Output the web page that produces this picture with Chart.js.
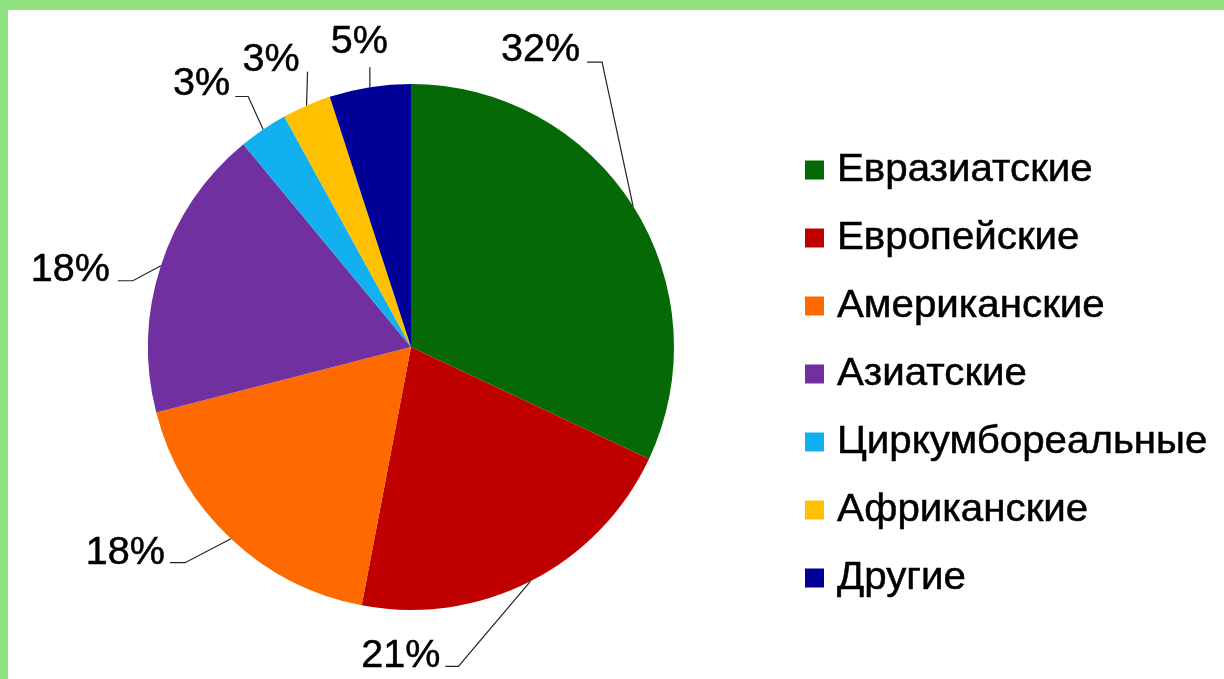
<!DOCTYPE html>
<html>
<head>
<meta charset="utf-8">
<script src="https://cdn.jsdelivr.net/npm/chart.js@4"></script>
<style>
  body { margin: 0; background: #fff; }
  #frame {
    width: 1216px; height: 669px;
    border-top: 10px solid #8fe27f;
    border-left: 8px solid #8fe27f;
    background: #fff;
  }
</style>
</head>
<body>
<div id="frame"><canvas id="pie" width="1216" height="669"></canvas></div>
<script>
var ctx = document.getElementById('pie').getContext('2d');

/* Группы (доли, %) */
const groups = ['Евразиатские', 'Европейские', 'Американские', 'Азиатские', 'Циркумбореальные', 'Африканские', 'Другие'];
const shares = [32, 21, 18, 18, 3, 3, 5];
const colors = ['#056a05', '#c00000', '#ff6a00', '#7030a0', '#12b0ee', '#ffc000', '#000099'];

// подписи: [доля дуги, dx, dy, длина полочки, отступ текста, сдвиг базовой линии]
const labelLayout = [
    [0.5, -31, -144, 15, 7, -1],
    [0.5, -72, 85, 13, 5, 1],
    [0.5, -46, 24, 15, 5, 1],
    [0.5, -28, 15, 15, 8, 0],
    [0.5, -15, -33, 13, 5, -1],
    [0.5, 1, -34, 0, 8, -1],
    [0.5, 0, -20, 0, -18, -14]
];
const FONT = '"Liberation Sans", Arial, sans-serif';

// чуть растянутый текст, как в оригинале
function wideText(c, txt, x, y, sx) {
    c.save();
    c.translate(x, y);
    c.scale(sx, 1);
    c.fillText(txt, 0, 0);
    c.strokeText(txt, 0, 0);
    c.restore();
}

const pieLabels = {
    id: 'pieLabels',
    afterDatasetsDraw(chart) {
        const c = chart.ctx;
        const arcs = chart.getDatasetMeta(0).data;
        const vals = chart.data.datasets[0].data;
        c.save();
        c.strokeStyle = '#222';
        c.lineWidth = 1.2;
        arcs.forEach((arc, i) => {
            const p = arc.getProps(['x', 'y', 'startAngle', 'endAngle', 'outerRadius'], true);
            const L = labelLayout[i];
            const a = p.startAngle + (p.endAngle - p.startAngle) * L[0];
            const ex = p.x + Math.cos(a) * p.outerRadius;
            const ey = p.y + Math.sin(a) * p.outerRadius;
            const bx = ex + L[1], by = ey + L[2];
            c.beginPath();
            c.moveTo(ex, ey);
            c.lineTo(bx, by);
            c.lineTo(bx - L[3], by);
            c.stroke();
        });
        c.font = '38px ' + FONT;
        c.fillStyle = '#000';
        c.strokeStyle = '#000';
        c.lineWidth = 0.5;
        c.textAlign = 'right';
        c.textBaseline = 'alphabetic';
        arcs.forEach((arc, i) => {
            const p = arc.getProps(['x', 'y', 'startAngle', 'endAngle', 'outerRadius'], true);
            const L = labelLayout[i];
            const a = p.startAngle + (p.endAngle - p.startAngle) * L[0];
            const bx = p.x + Math.cos(a) * p.outerRadius + L[1];
            const by = p.y + Math.sin(a) * p.outerRadius + L[2];
            wideText(c, vals[i] + '%', bx - L[3] - L[4], by + L[5], 1.04);
        });
        c.restore();
    }
};

// легенда справа
const legendX = 797, legendY = 160, legendStep = 68, legendBox = 19;
const sideLegend = {
    id: 'sideLegend',
    afterDraw(chart) {
        const c = chart.ctx;
        const ds = chart.data.datasets[0];
        c.save();
        c.font = '38px ' + FONT;
        c.textAlign = 'left';
        c.textBaseline = 'middle';
        c.lineWidth = 0.5;
        chart.data.labels.forEach((lab, i) => {
            const y = legendY + i * legendStep;
            c.fillStyle = ds.backgroundColor[i];
            c.fillRect(legendX, y - legendBox / 2, legendBox, legendBox);
            c.fillStyle = '#000';
            c.strokeStyle = '#000';
            wideText(c, lab, legendX + 32, y + 1, 1.06);
        });
        c.restore();
    }
};

var myChart = new Chart(ctx, {
    type: 'pie',
    data: {
        labels: groups,
        datasets: [{
            data: shares,
            backgroundColor: colors,
            borderWidth: 0
        }]
    },
    options: {
        responsive: false,
        animation: false,
        devicePixelRatio: 1,
        layout: {
            padding: { top: 74, bottom: 69, left: 140, right: 550 }
        },
        plugins: {
            legend: { display: false },
            tooltip: { enabled: false }
        }
    },
    plugins: [pieLabels, sideLegend]
});
</script>
</body>
</html>
